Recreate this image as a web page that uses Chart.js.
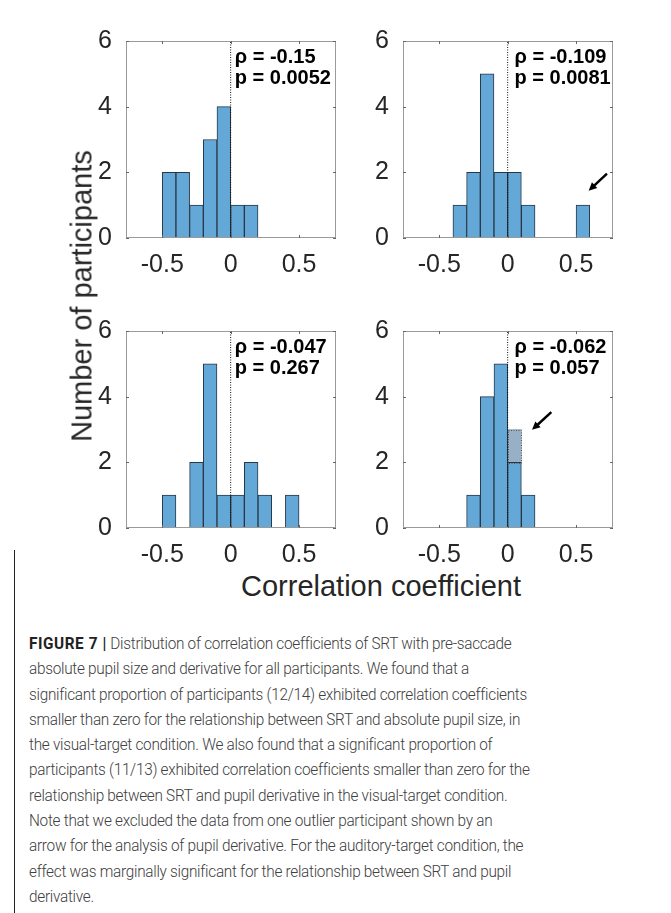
<!DOCTYPE html>
<html>
<head>
<meta charset="utf-8">
<script src="https://cdn.jsdelivr.net/npm/chart.js@4.4.0/dist/chart.umd.min.js"></script>
<style>
  body { margin: 0; width: 671px; height: 913px; background: #fff; position: relative; overflow: hidden; font-family: "Liberation Sans", Arial, sans-serif; }
  canvas { position: absolute; }
  .title { position: absolute; color: #262626; font-size: 29px; white-space: nowrap; }
  #ytitle { left: 82px; top: 296px; transform: translate(-50%, -50%) rotate(-90deg); }
  #xtitle { left: 381px; top: 586px; transform: translate(-50%, -50%); }
  #caption { position: absolute; left: 29px; top: 631px; font-family: "Roboto", sans-serif; font-weight: 300; font-size: 16.5px; letter-spacing: -0.3px; line-height: 25.3px; color: #404040; white-space: nowrap; transform: scaleX(0.93); transform-origin: 0 0; }
  #caption b { color: #222; font-weight: 700; letter-spacing: 0.6px; }
  #rule { position: absolute; left: 14px; top: 550px; width: 1px; height: 363px; background: #222; }
</style>
</head>
<body>
<canvas id="c1"></canvas>
<canvas id="c2"></canvas>
<canvas id="c3"></canvas>
<canvas id="c4"></canvas>
<div class="title" id="ytitle">Number of participants</div>
<div class="title" id="xtitle">Correlation coefficient</div>
<div id="rule"></div>
<div id="caption"></div>
<script>
// histogram bins (centres, width 0.1)
const binCenters = [-0.65, -0.55, -0.45, -0.35, -0.25, -0.15, -0.05, 0.05, 0.15, 0.25, 0.35, 0.45, 0.55, 0.65];
const xTicks = [-0.5, 0, 0.5];
const yTicks = [0, 2, 4, 6];

// counts per bin, one array per panel
const countsTL = [0, 0, 2, 2, 1, 3, 4, 1, 1, 0, 0, 0, 0, 0];
const countsTR = [0, 0, 0, 1, 2, 5, 2, 2, 1, 0, 0, 0, 1, 0];
const countsBL = [0, 0, 1, 0, 2, 5, 1, 1, 2, 1, 0, 1, 0, 0];
const countsBR = [0, 0, 0, 0, 1, 4, 5, 2, 1, 0, 0, 0, 0, 0];
const outlierBR = [0, 0, 0, 0, 0, 0, 0, 1, 0, 0, 0, 0, 0, 0];

const rhoLabels = ['ρ = -0.15', 'ρ = -0.109', 'ρ = -0.047', 'ρ = -0.062'];
const pLabels = ['p = 0.0052', 'p = 0.0081', 'p = 0.267', 'p = 0.057'];

// arrows pointing at the outlier: [tailX, tailY, headX, headY] in data units
const arrowTR = [0.726, 1.96, 0.592, 1.44];
const arrowBR = [0.319, 3.53, 0.178, 2.99];

const captionLines = [
  '<b>FIGURE 7 |</b> Distribution of correlation coefficients of SRT with pre-saccade',
  'absolute pupil size and derivative for all participants. We found that a',
  'significant proportion of participants (12/14) exhibited correlation coefficients',
  'smaller than zero for the relationship between SRT and absolute pupil size, in',
  'the visual-target condition. We also found that a significant proportion of',
  'participants (11/13) exhibited correlation coefficients smaller than zero for the',
  'relationship between SRT and pupil derivative in the visual-target condition.',
  'Note that we excluded the data from one outlier participant shown by an',
  'arrow for the analysis of pupil derivative. For the auditory-target condition, the',
  'effect was marginally significant for the relationship between SRT and pupil',
  'derivative.'
];
document.getElementById('caption').innerHTML = captionLines.join('<br>');

const BAR_FILL = 'rgb(100,168,215)';
const BAR_EDGE = 'rgb(40,55,70)';
const OUT_FILL = 'rgb(152,176,198)';
const AXIS_COL = '#262626';

Chart.defaults.font.family = '"Liberation Sans", Arial, sans-serif';

function drawArrow(ctx, x1, y1, x2, y2) {
  const ang = Math.atan2(y2 - y1, x2 - x1);
  const head = 9;
  ctx.save();
  ctx.strokeStyle = '#000';
  ctx.fillStyle = '#000';
  ctx.lineWidth = 2.5;
  ctx.beginPath();
  ctx.moveTo(x1, y1);
  ctx.lineTo(x2 - Math.cos(ang) * head * 0.8, y2 - Math.sin(ang) * head * 0.8);
  ctx.stroke();
  ctx.beginPath();
  ctx.moveTo(x2, y2);
  ctx.lineTo(x2 - head * Math.cos(ang - 0.45), y2 - head * Math.sin(ang - 0.45));
  ctx.lineTo(x2 - head * Math.cos(ang + 0.45), y2 - head * Math.sin(ang + 0.45));
  ctx.closePath();
  ctx.fill();
  ctx.restore();
}

const frame = {
  id: 'frame',
  afterDatasetsDraw(chart, args, opts) {
    const { ctx, chartArea: a, scales: { x, y } } = chart;
    ctx.save();
    // outlier bars get a dotted outline
    chart.data.datasets.forEach((ds, di) => {
      if (!ds.outlier) return;
      chart.getDatasetMeta(di).data.forEach((bar, i) => {
        if (!ds.data[i].y) return;
        const w = bar.width;
        ctx.strokeStyle = '#555';
        ctx.lineWidth = 1;
        ctx.setLineDash([1, 1.5]);
        ctx.strokeRect(Math.round(bar.x - w / 2) + 0.5, Math.round(bar.y) + 0.5, Math.round(w) - 1, Math.round(bar.base - bar.y));
        ctx.setLineDash([]);
      });
    });
    // box
    ctx.strokeStyle = '#9a9a9a';
    ctx.lineWidth = 1;
    ctx.strokeRect(a.left + 0.5, a.top + 0.5, a.right - a.left - 1, a.bottom - a.top - 1);
    // inward ticks
    ctx.strokeStyle = '#666';
    ctx.beginPath();
    xTicks.forEach(v => {
      const px = Math.round(x.getPixelForValue(v)) + 0.5;
      ctx.moveTo(px, a.bottom); ctx.lineTo(px, a.bottom - 3);
      ctx.moveTo(px, a.top); ctx.lineTo(px, a.top + 3);
    });
    yTicks.forEach(v => {
      const py = Math.round(y.getPixelForValue(v)) + 0.5;
      ctx.moveTo(a.left, py); ctx.lineTo(a.left + 3, py);
      ctx.moveTo(a.right, py); ctx.lineTo(a.right - 3, py);
    });
    ctx.stroke();
    // statistics text
    ctx.fillStyle = '#000';
    ctx.font = 'bold 20px "Liberation Sans", Arial, sans-serif';
    ctx.textBaseline = 'middle';
    ctx.textAlign = 'left';
    const tx = x.getPixelForValue(opts.textX);
    ctx.fillText(opts.rho, tx, y.getPixelForValue(5.5));
    ctx.fillText(opts.p, tx, y.getPixelForValue(4.87));
    if (opts.arrow) {
      const r = opts.arrow;
      drawArrow(ctx, x.getPixelForValue(r[0]), y.getPixelForValue(r[1]),
                x.getPixelForValue(r[2]), y.getPixelForValue(r[3]));
    }
    ctx.restore();
  }
};

function makePanel(id, left, top, counts, k, arrow, outlier) {
  const cv = document.getElementById(id);
  const W = 210 + 50 + 14, H = 202 + 16 + 40;
  cv.width = W; cv.height = H;
  cv.style.left = (left - 50) + 'px';
  cv.style.top = (top - 16) + 'px';
  cv.style.width = W + 'px'; cv.style.height = H + 'px';

  const datasets = [{
    type: 'bar',
    data: binCenters.map((c, i) => ({ x: c, y: counts[i] || null })),
    backgroundColor: BAR_FILL,
    borderColor: BAR_EDGE,
    borderWidth: 1,
    borderSkipped: false,
    barPercentage: 1,
    categoryPercentage: 1,
    stack: 'h',
    order: 1
  }];
  if (outlier) {
    datasets.push({
      type: 'bar',
      outlier: true,
      data: binCenters.map((c, i) => ({ x: c, y: outlier[i] || null })),
      backgroundColor: OUT_FILL,
      borderWidth: 0,
      barPercentage: 1,
      categoryPercentage: 1,
      stack: 'h',
      order: 2
    });
  }
  datasets.push({
    type: 'line',
    data: [{ x: 0, y: 0 }, { x: 0, y: 6 }],
    borderColor: '#111',
    borderWidth: 1,
    borderDash: [1, 1.5],
    pointRadius: 0,
    order: 0
  });

  return new Chart(cv, {
    type: 'bar',
    data: { datasets },
    options: {
      responsive: false,
      animation: false,
      devicePixelRatio: 1,
      layout: { padding: { top: 16, right: 14, left: 0, bottom: 0 } },
      plugins: {
        legend: { display: false },
        tooltip: { enabled: false },
        frame: { rho: rhoLabels[k], p: pLabels[k], textX: (k % 2 === 0) ? 0.03 : 0.05, arrow }
      },
      scales: {
        x: {
          type: 'linear',
          offset: false,
          min: -0.765, max: 0.77,
          grid: { display: false, offset: false },
          border: { display: false },
          afterBuildTicks: s => { s.ticks = xTicks.map(v => ({ value: v })); },
          afterFit: s => { s.height = 40; },
          ticks: { color: AXIS_COL, font: { size: 25 }, padding: 4, maxRotation: 0, autoSkip: false, callback: v => String(v) }
        },
        y: {
          min: 0, max: 6,
          grid: { display: false },
          border: { display: false },
          afterBuildTicks: s => { s.ticks = yTicks.map(v => ({ value: v })); },
          afterFit: s => { s.width = 50; },
          ticks: { color: AXIS_COL, font: { size: 25 }, padding: 6, callback: v => String(v) }
        }
      }
    },
    plugins: [frame]
  });
}

makePanel('c1', 126, 36, countsTL, 0, null, null);
makePanel('c2', 403, 36, countsTR, 1, arrowTR, null);
makePanel('c3', 126, 326, countsBL, 2, null, null);
makePanel('c4', 403, 326, countsBR, 3, arrowBR, outlierBR);
</script>
</body>
</html>
